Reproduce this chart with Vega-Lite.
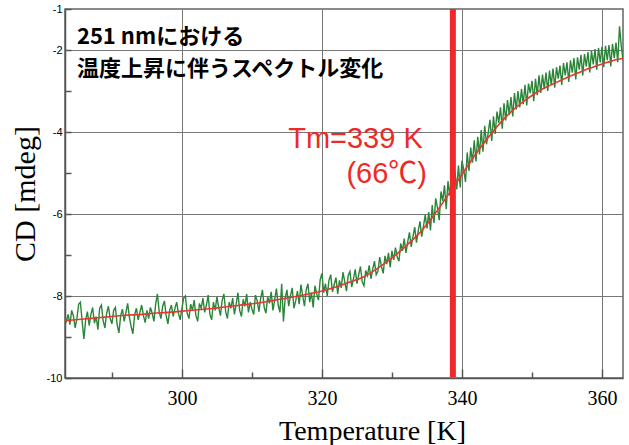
{
"$schema": "https://vega.github.io/schema/vega-lite/v6.json",
"autosize": "none",
"width": 558,
"height": 369,
"padding": {"left": 65, "top": 9, "right": 6, "bottom": 67},
"background": "white",
"config": {"view": {"stroke": "#666", "strokeWidth": 1.5}},
"datasets": {
"green": [
{"t":283.25,"cd":-8.50},{"t":283.5,"cd":-8.62},{"t":283.75,"cd":-8.45},{"t":284,"cd":-8.70},{"t":284.25,"cd":-8.35},{"t":284.5,"cd":-8.48},{"t":284.75,"cd":-8.78},{"t":285,"cd":-8.55},{"t":285.25,"cd":-8.20},{"t":285.5,"cd":-8.15},{"t":285.75,"cd":-8.62},{"t":286,"cd":-9.05},{"t":286.25,"cd":-8.58},{"t":286.5,"cd":-8.38},{"t":286.75,"cd":-8.72},{"t":287,"cd":-8.45},{"t":287.25,"cd":-8.28},{"t":287.5,"cd":-8.66},{"t":287.75,"cd":-8.50},{"t":288,"cd":-8.82},{"t":288.25,"cd":-8.30},{"t":288.5,"cd":-8.22},{"t":288.75,"cd":-8.60},{"t":289,"cd":-8.78},{"t":289.25,"cd":-8.42},{"t":289.5,"cd":-8.25},{"t":289.75,"cd":-8.55},{"t":290,"cd":-8.68},{"t":290.25,"cd":-8.35},{"t":290.5,"cd":-8.28},{"t":290.75,"cd":-8.70},{"t":291,"cd":-8.90},{"t":291.25,"cd":-8.48},{"t":291.5,"cd":-8.32},{"t":291.75,"cd":-8.62},{"t":292,"cd":-8.40},{"t":292.25,"cd":-8.18},{"t":292.5,"cd":-8.52},{"t":292.75,"cd":-8.75},{"t":293,"cd":-8.92},{"t":293.25,"cd":-8.45},{"t":293.5,"cd":-8.30},{"t":293.75,"cd":-8.58},{"t":294,"cd":-8.40},{"t":294.25,"cd":-8.22},{"t":294.5,"cd":-8.48},{"t":294.75,"cd":-8.65},{"t":295,"cd":-8.35},{"t":295.25,"cd":-8.55},{"t":295.5,"cd":-8.28},{"t":295.75,"cd":-8.42},{"t":296,"cd":-8.62},{"t":296.25,"cd":-8.20},{"t":296.5,"cd":-7.95},{"t":296.75,"cd":-8.38},{"t":297,"cd":-8.55},{"t":297.25,"cd":-8.25},{"t":297.5,"cd":-8.12},{"t":297.75,"cd":-8.48},{"t":298,"cd":-8.68},{"t":298.25,"cd":-8.35},{"t":298.5,"cd":-8.22},{"t":298.75,"cd":-8.50},{"t":299,"cd":-8.30},{"t":299.25,"cd":-8.15},{"t":299.5,"cd":-8.42},{"t":299.75,"cd":-8.58},{"t":300,"cd":-8.30},
{"t":300.25,"cd":-8.05},{"t":300.5,"cd":-8.00},{"t":300.75,"cd":-8.42},{"t":301,"cd":-8.55},{"t":301.25,"cd":-8.20},{"t":301.5,"cd":-8.35},{"t":301.75,"cd":-8.10},{"t":302,"cd":-8.48},{"t":302.25,"cd":-8.62},{"t":302.5,"cd":-8.18},{"t":302.75,"cd":-8.30},{"t":303,"cd":-8.05},{"t":303.25,"cd":-8.40},{"t":303.5,"cd":-8.22},{"t":303.75,"cd":-7.98},{"t":304,"cd":-8.45},{"t":304.25,"cd":-8.58},{"t":304.5,"cd":-8.15},{"t":304.75,"cd":-8.35},{"t":305,"cd":-8.02},{"t":305.25,"cd":-8.28},{"t":305.5,"cd":-8.48},{"t":305.75,"cd":-8.10},{"t":306,"cd":-7.95},{"t":306.25,"cd":-8.38},{"t":306.5,"cd":-8.55},{"t":306.75,"cd":-8.15},{"t":307,"cd":-8.30},{"t":307.25,"cd":-8.05},{"t":307.5,"cd":-8.45},{"t":307.75,"cd":-8.20},{"t":308,"cd":-7.92},{"t":308.25,"cd":-8.35},{"t":308.5,"cd":-8.50},{"t":308.75,"cd":-8.08},{"t":309,"cd":-8.25},{"t":309.25,"cd":-7.95},{"t":309.5,"cd":-8.40},{"t":309.75,"cd":-8.15},{"t":310,"cd":-8.32},
{"t":310.25,"cd":-8.45},{"t":310.5,"cd":-7.98},{"t":310.75,"cd":-8.12},{"t":311,"cd":-8.38},{"t":311.25,"cd":-8.05},{"t":311.5,"cd":-7.85},{"t":311.75,"cd":-8.28},{"t":312,"cd":-8.42},{"t":312.25,"cd":-8.02},{"t":312.5,"cd":-8.18},{"t":312.75,"cd":-7.90},{"t":313,"cd":-8.35},{"t":313.25,"cd":-8.10},{"t":313.5,"cd":-7.82},{"t":313.75,"cd":-8.22},{"t":314,"cd":-8.40},{"t":314.25,"cd":-7.70},{"t":314.5,"cd":-8.62},{"t":314.75,"cd":-8.05},{"t":315,"cd":-7.85},{"t":315.25,"cd":-8.25},{"t":315.5,"cd":-8.00},{"t":315.75,"cd":-7.80},{"t":316,"cd":-8.30},{"t":316.25,"cd":-8.12},{"t":316.5,"cd":-7.88},{"t":316.75,"cd":-8.20},{"t":317,"cd":-7.72},{"t":317.25,"cd":-8.00},{"t":317.5,"cd":-8.25},{"t":317.75,"cd":-7.85},{"t":318,"cd":-7.70},{"t":318.25,"cd":-8.15},{"t":318.5,"cd":-7.92},{"t":318.75,"cd":-8.28},{"t":319,"cd":-7.75},{"t":319.25,"cd":-7.95},{"t":319.5,"cd":-8.10},{"t":319.75,"cd":-7.60},{"t":320,"cd":-7.45},
{"t":320.25,"cd":-7.92},{"t":320.5,"cd":-7.70},{"t":320.75,"cd":-8.00},{"t":321,"cd":-7.62},{"t":321.25,"cd":-7.48},{"t":321.5,"cd":-7.90},{"t":321.75,"cd":-7.72},{"t":322,"cd":-7.55},{"t":322.25,"cd":-7.95},{"t":322.5,"cd":-7.62},{"t":322.75,"cd":-7.80},{"t":323,"cd":-7.42},{"t":323.25,"cd":-7.65},{"t":323.5,"cd":-7.88},{"t":323.75,"cd":-7.50},{"t":324,"cd":-7.40},{"t":324.25,"cd":-7.78},{"t":324.5,"cd":-7.58},{"t":324.75,"cd":-7.35},{"t":325,"cd":-7.70},{"t":325.25,"cd":-7.48},{"t":325.5,"cd":-7.28},{"t":325.75,"cd":-7.65},{"t":326,"cd":-7.75},{"t":326.25,"cd":-7.38},{"t":326.5,"cd":-7.50},{"t":326.75,"cd":-7.25},{"t":327,"cd":-7.58},{"t":327.25,"cd":-7.35},{"t":327.5,"cd":-7.15},{"t":327.75,"cd":-7.48},{"t":328,"cd":-7.40},{"t":328.25,"cd":-7.05},{"t":328.5,"cd":-7.28},{"t":328.75,"cd":-7.45},{"t":329,"cd":-7.02},{"t":329.25,"cd":-7.22},{"t":329.5,"cd":-6.95},{"t":329.75,"cd":-7.30},{"t":330,"cd":-6.90},{"t":330.25,"cd":-7.12},{"t":330.5,"cd":-6.82},{"t":330.75,"cd":-7.05},{"t":331,"cd":-7.15},{"t":331.25,"cd":-6.72},{"t":331.5,"cd":-6.90},{"t":331.75,"cd":-6.60},{"t":332,"cd":-6.95},{"t":332.25,"cd":-6.68},{"t":332.5,"cd":-6.45},{"t":332.75,"cd":-6.80},{"t":333,"cd":-6.55},{"t":333.25,"cd":-6.32},{"t":333.5,"cd":-6.70},{"t":333.75,"cd":-6.42},{"t":334,"cd":-6.18},{"t":334.25,"cd":-6.55},{"t":334.5,"cd":-6.30},{"t":334.75,"cd":-6.02},{"t":335,"cd":-6.35},
{"t":335.25,"cd":-5.95},{"t":335.5,"cd":-6.40},{"t":335.75,"cd":-5.78},{"t":336,"cd":-6.22},{"t":336.25,"cd":-5.62},{"t":336.5,"cd":-5.85},{"t":336.75,"cd":-6.15},{"t":337,"cd":-5.45},{"t":337.25,"cd":-5.68},{"t":337.5,"cd":-5.30},{"t":337.75,"cd":-5.88},{"t":338,"cd":-5.20},{"t":338.25,"cd":-5.55},{"t":338.5,"cd":-5.05},{"t":338.75,"cd":-5.62},{"t":339,"cd":-4.95},{"t":339.25,"cd":-5.40},{"t":339.5,"cd":-4.82},{"t":339.75,"cd":-5.35},{"t":340,"cd":-4.70},{"t":340.25,"cd":-4.92},{"t":340.5,"cd":-5.22},{"t":340.75,"cd":-4.50},{"t":341,"cd":-4.95},{"t":341.25,"cd":-4.38},{"t":341.5,"cd":-4.75},{"t":341.75,"cd":-4.20},{"t":342,"cd":-4.72},{"t":342.25,"cd":-4.12},{"t":342.5,"cd":-4.55},{"t":342.75,"cd":-3.95},{"t":343,"cd":-4.48},{"t":343.25,"cd":-3.85},{"t":343.5,"cd":-4.30},{"t":343.75,"cd":-4.02},{"t":344,"cd":-3.70},{"t":344.25,"cd":-4.22},{"t":344.5,"cd":-3.62},{"t":344.75,"cd":-4.05},{"t":345,"cd":-3.50},{"t":345.25,"cd":-3.78},{"t":345.5,"cd":-3.40},{"t":345.75,"cd":-3.92},{"t":346,"cd":-3.30},{"t":346.25,"cd":-3.72},{"t":346.5,"cd":-3.22},{"t":346.75,"cd":-3.58},{"t":347,"cd":-3.15},{"t":347.25,"cd":-3.62},{"t":347.5,"cd":-3.05},{"t":347.75,"cd":-3.45},{"t":348,"cd":-3.00},{"t":348.25,"cd":-3.40},{"t":348.5,"cd":-2.95},{"t":348.75,"cd":-3.32},{"t":349,"cd":-2.85},{"t":349.25,"cd":-3.35},{"t":349.5,"cd":-2.82},{"t":349.75,"cd":-3.05},{"t":350,"cd":-2.75},
{"t":350.25,"cd":-3.25},{"t":350.5,"cd":-2.70},{"t":350.75,"cd":-3.10},{"t":351,"cd":-2.62},{"t":351.25,"cd":-3.05},{"t":351.5,"cd":-2.60},{"t":351.75,"cd":-2.95},{"t":352,"cd":-2.55},{"t":352.25,"cd":-3.00},{"t":352.5,"cd":-2.50},{"t":352.75,"cd":-2.85},{"t":353,"cd":-2.45},{"t":353.25,"cd":-2.92},{"t":353.5,"cd":-2.42},{"t":353.75,"cd":-2.70},{"t":354,"cd":-2.38},{"t":354.25,"cd":-2.85},{"t":354.5,"cd":-2.32},{"t":354.75,"cd":-2.62},{"t":355,"cd":-2.30},{"t":355.25,"cd":-2.78},{"t":355.5,"cd":-2.25},{"t":355.75,"cd":-2.55},{"t":356,"cd":-2.20},{"t":356.25,"cd":-2.72},{"t":356.5,"cd":-2.18},{"t":356.75,"cd":-2.48},{"t":357,"cd":-2.12},{"t":357.25,"cd":-2.62},{"t":357.5,"cd":-2.10},{"t":357.75,"cd":-2.40},{"t":358,"cd":-2.05},{"t":358.25,"cd":-2.55},{"t":358.5,"cd":-2.02},{"t":358.75,"cd":-2.35},{"t":359,"cd":-1.98},{"t":359.25,"cd":-2.48},{"t":359.5,"cd":-1.95},{"t":359.75,"cd":-2.30},{"t":360,"cd":-1.92},{"t":360.25,"cd":-2.42},{"t":360.5,"cd":-1.90},{"t":360.75,"cd":-2.25},{"t":361,"cd":-1.88},{"t":361.25,"cd":-2.40},{"t":361.5,"cd":-1.85},{"t":361.75,"cd":-2.20},{"t":362,"cd":-1.82},{"t":362.25,"cd":-2.30},{"t":362.5,"cd":-1.42},{"t":362.75,"cd":-1.90},{"t":363,"cd":-2.25},{"t":363.25,"cd":-2.05}
],
"fit": [
{"t":283.3,"cd":-8.60},{"t":284,"cd":-8.59},{"t":286,"cd":-8.56},{"t":288,"cd":-8.53},{"t":290,"cd":-8.50},{"t":292,"cd":-8.47},{"t":294,"cd":-8.45},{"t":296,"cd":-8.42},{"t":298,"cd":-8.40},{"t":300,"cd":-8.37},{"t":302,"cd":-8.34},{"t":304,"cd":-8.31},{"t":306,"cd":-8.27},{"t":308,"cd":-8.23},{"t":310,"cd":-8.19},{"t":312,"cd":-8.14},{"t":314,"cd":-8.08},{"t":316,"cd":-8.02},{"t":318,"cd":-7.95},{"t":320,"cd":-7.88},{"t":321,"cd":-7.83},{"t":322,"cd":-7.78},{"t":323,"cd":-7.72},{"t":324,"cd":-7.66},{"t":325,"cd":-7.60},{"t":326,"cd":-7.53},{"t":327,"cd":-7.43},{"t":328,"cd":-7.32},{"t":329,"cd":-7.20},{"t":330,"cd":-7.07},{"t":331,"cd":-6.93},{"t":332,"cd":-6.78},{"t":333,"cd":-6.62},{"t":334,"cd":-6.45},{"t":335,"cd":-6.25},{"t":336,"cd":-6.03},{"t":337,"cd":-5.79},{"t":338,"cd":-5.54},{"t":339,"cd":-5.29},{"t":340,"cd":-5.04},{"t":341,"cd":-4.78},{"t":342,"cd":-4.53},{"t":343,"cd":-4.30},{"t":344,"cd":-4.08},{"t":345,"cd":-3.87},{"t":346,"cd":-3.68},{"t":347,"cd":-3.51},{"t":348,"cd":-3.36},{"t":349,"cd":-3.23},{"t":350,"cd":-3.11},{"t":351,"cd":-3.00},{"t":352,"cd":-2.91},{"t":353,"cd":-2.83},{"t":354,"cd":-2.75},{"t":355,"cd":-2.67},{"t":356,"cd":-2.60},{"t":357,"cd":-2.53},{"t":358,"cd":-2.46},{"t":359,"cd":-2.40},{"t":360,"cd":-2.34},{"t":361,"cd":-2.29},{"t":362,"cd":-2.24},{"t":363,"cd":-2.20}
],
"tm": [{"t":338.7}],
"black": [
{"t":285.0,"cd":-1.85,"label":"251 nmにおける"},
{"t":285.0,"cd":-2.63,"label":"温度上昇に伴うスペクトル変化"}
],
"red": [
{"t":334.4,"cd":-4.39,"label":"Tm=339 K"},
{"t":335.0,"cd":-5.24,"label":"(66℃)"}
]
},
"encoding": {
"x": {
"field": "t", "type": "quantitative",
"scale": {"domain": [283.3, 363.0], "nice": false, "zero": false},
"axis": {
"values": [290,300,310,320,330,340,350,360],
"labelExpr": "datum.value % 20 == 0 ? datum.label : ''",
"labelFont": "Liberation Serif", "labelFontSize": 20, "labelColor": "#000",
"tickSize": {"condition": {"test": "datum.value % 20 == 0", "value": -9}, "value": -6},
"tickColor": "#555", "tickWidth": 1.5,
"labelPadding": 19,
"grid": true,
"gridColor": {"condition": {"test": "datum.value % 20 == 0", "value": "#777"}, "value": "transparent"},
"gridWidth": 1,
"domainColor": "#555", "domainWidth": 1.5,
"title": "Temperature [K]",
"titleFont": "Liberation Serif", "titleFontSize": 28, "titleFontWeight": "normal", "titleColor": "#000",
"titleX": 307, "titleY": 61, "titleBaseline": "alphabetic", "titleAlign": "center"
}
}
},
"layer": [
{
"data": {"name": "green"},
"mark": {"type": "line", "color": "#2b8538", "strokeWidth": 1.4, "clip": true},
"encoding": {
"y": {
"field": "cd", "type": "quantitative",
"scale": {"domain": [-10, -1], "nice": false, "zero": false},
"axis": {
"values": [-10,-9,-8,-7,-6,-5,-4,-3,-2,-1],
"labelExpr": "(datum.value % 2 == 0 || datum.value == -1) ? ('' + datum.value) : ''",
"labelFont": "Liberation Sans", "labelFontSize": 11, "labelColor": "#000",
"tickSize": -6, "tickColor": "#555", "tickWidth": 1.5,
"labelPadding": 9,
"grid": true,
"gridColor": {"condition": {"test": "datum.value % 2 == 0 && datum.value > -10", "value": "#777"}, "value": "transparent"},
"gridWidth": 1,
"domainColor": "#555", "domainWidth": 1.5,
"title": "CD [mdeg]",
"titleFont": "Liberation Serif", "titleFontSize": 30, "titleFontWeight": "normal", "titleColor": "#000",
"titleX": -31, "titleY": 184.5, "titleBaseline": "alphabetic", "titleAlign": "center", "titleAngle": -90
}
}
}
},
{
"data": {"name": "fit"},
"mark": {"type": "line", "color": "#e8372e", "strokeWidth": 1.6, "interpolate": "monotone", "clip": true},
"encoding": {"y": {"field": "cd", "type": "quantitative", "title": "CD [mdeg]"}}
},
{
"data": {"name": "tm"},
"mark": {"type": "rule", "color": "#f0282a", "strokeWidth": 6},
"encoding": {"y": {"datum": -9.98}, "y2": {"datum": -1}}
},
{
"data": {"name": "black"},
"mark": {"type": "text", "align": "left", "baseline": "alphabetic", "font": "Noto Sans CJK JP", "fontSize": 22, "fontWeight": "bold", "color": "#000"},
"encoding": {"y": {"field": "cd", "type": "quantitative", "title": "CD [mdeg]"}, "text": {"field": "label"}}
},
{
"data": {"name": "red"},
"mark": {"type": "text", "align": "right", "baseline": "alphabetic", "font": "Liberation Sans, Noto Sans CJK JP", "fontSize": 29, "color": "#ee2a26"},
"encoding": {"y": {"field": "cd", "type": "quantitative", "title": "CD [mdeg]"}, "text": {"field": "label"}}
}
]
}
